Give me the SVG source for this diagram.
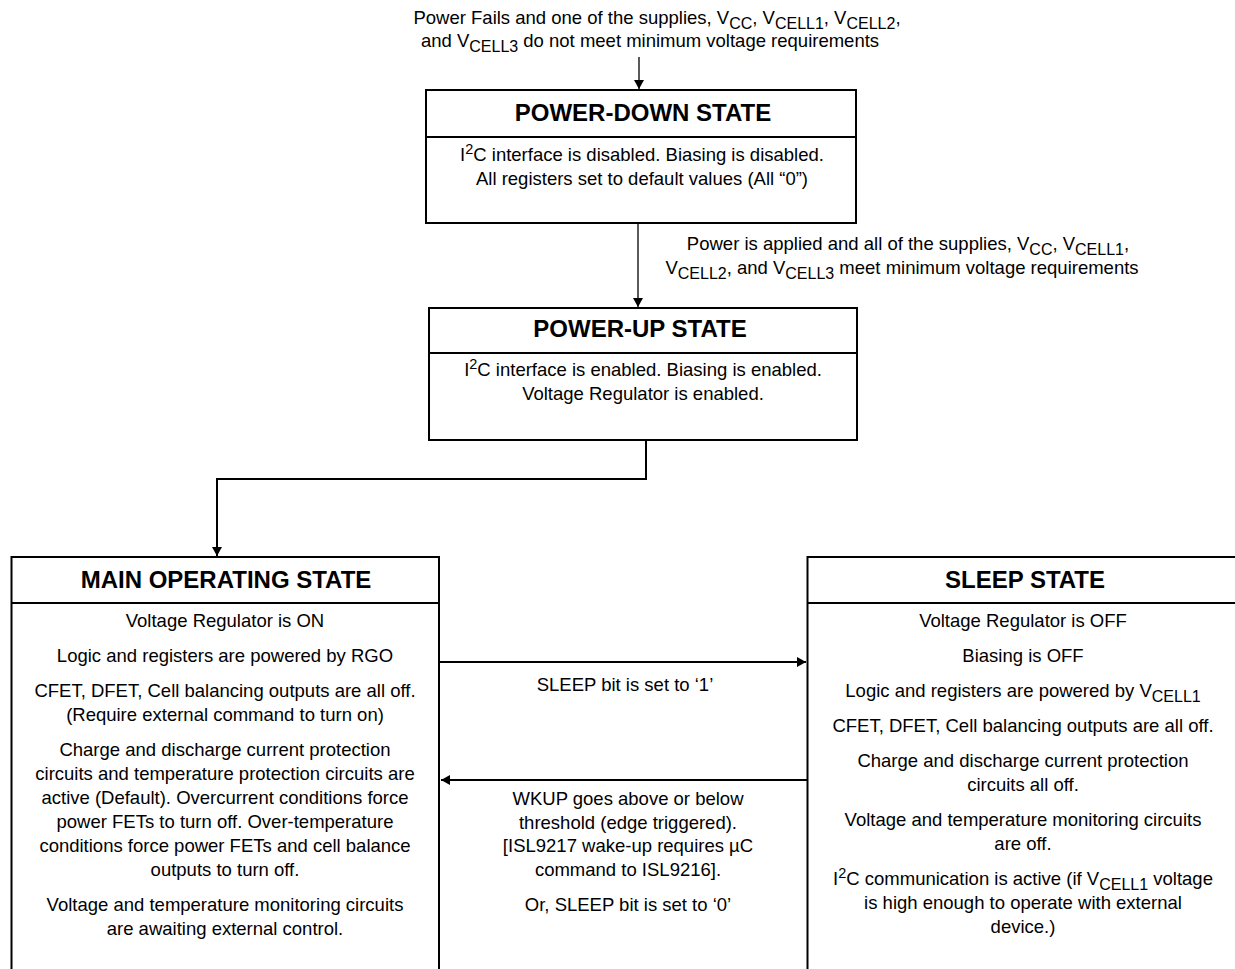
<svg xmlns="http://www.w3.org/2000/svg" width="1235" height="969" viewBox="0 0 1235 969">
<defs>
<marker id="ah" markerUnits="userSpaceOnUse" markerWidth="9" markerHeight="10" refX="9" refY="5" orient="auto">
<path d="M0,0 L9,5 L0,10 z" fill="#000"/>
</marker>
<style>
.t{font-family:"Liberation Sans",Arial,sans-serif;font-size:18.5px;fill:#000;text-anchor:middle}
.h{font-family:"Liberation Sans",Arial,sans-serif;font-size:24px;font-weight:bold;fill:#000;text-anchor:middle}
.s{font-size:16px}
.p{font-size:14.5px}
.box{fill:#fff;stroke:#000;stroke-width:2}
.div{stroke:#000;stroke-width:2}
.c{fill:none;stroke:#000;stroke-width:2}
.ct{fill:none;stroke:#000;stroke-width:1.3}
</style>
</defs>
<rect width="1235" height="969" fill="#fff"/>

<g id="connectors">
<line class="ct" x1="639" y1="57" x2="639" y2="89" marker-end="url(#ah)"/>
<line class="ct" x1="638" y1="224" x2="638" y2="307" marker-end="url(#ah)"/>
<polyline class="c" points="646,441 646,479 217,479 217,556" marker-end="url(#ah)"/>
<line class="c" x1="440" y1="662" x2="806" y2="662" marker-end="url(#ah)"/>
<line class="c" x1="807" y1="780" x2="441" y2="780" marker-end="url(#ah)"/>
<text class="t" x="657" y="24">Power Fails and one of the supplies, V<tspan class="s" dy="5">CC</tspan><tspan dy="-5">, V</tspan><tspan class="s" dy="5">CELL1</tspan><tspan dy="-5">, V</tspan><tspan class="s" dy="5">CELL2</tspan><tspan dy="-5">,</tspan></text>
<text class="t" x="650" y="47">and V<tspan class="s" dy="5">CELL3</tspan><tspan dy="-5"> do not meet minimum voltage requirements</tspan></text>
<text class="t" x="908" y="250">Power is applied and all of the supplies, V<tspan class="s" dy="5">CC</tspan><tspan dy="-5">, V</tspan><tspan class="s" dy="5">CELL1</tspan><tspan dy="-5">,</tspan></text>
<text class="t" x="902" y="274">V<tspan class="s" dy="5">CELL2</tspan><tspan dy="-5">, and V</tspan><tspan class="s" dy="5">CELL3</tspan><tspan dy="-5"> meet minimum voltage requirements</tspan></text>
<text class="t" x="625" y="691">SLEEP bit is set to ‘1’</text>
<text class="t" x="628" y="805">WKUP goes above or below</text>
<text class="t" x="628" y="829">threshold (edge triggered).</text>
<text class="t" x="628" y="852">[ISL9217 wake-up requires µC</text>
<text class="t" x="628" y="876">command to ISL9216].</text>
<text class="t" x="628" y="911">Or, SLEEP bit is set to ‘0’</text>
</g>

<g id="power-down">
<rect class="box" x="426" y="90" width="430" height="133"/>
<line class="div" x1="426" y1="137" x2="856" y2="137"/>
<text class="h" x="643" y="121">POWER-DOWN STATE</text>
<text class="t" x="642" y="161">I<tspan class="p" dy="-7">2</tspan><tspan dy="7">C interface is disabled. Biasing is disabled.</tspan></text>
<text class="t" x="642" y="185">All registers set to default values (All “0”)</text>
</g>

<g id="power-up">
<rect class="box" x="429" y="308" width="428" height="132"/>
<line class="div" x1="429" y1="353" x2="857" y2="353"/>
<text class="h" x="640" y="337">POWER-UP STATE</text>
<text class="t" x="643" y="376">I<tspan class="p" dy="-7">2</tspan><tspan dy="7">C interface is enabled. Biasing is enabled.</tspan></text>
<text class="t" x="643" y="400">Voltage Regulator is enabled.</text>
</g>

<g id="main-operating">
<rect class="box" x="11.5" y="557" width="427.5" height="430"/>
<line class="div" x1="11.5" y1="603" x2="439" y2="603"/>
<text class="h" x="226" y="588">MAIN OPERATING STATE</text>
<text class="t" x="225" y="627">Voltage Regulator is ON</text>
<text class="t" x="225" y="662">Logic and registers are powered by RGO</text>
<text class="t" x="225" y="697">CFET, DFET, Cell balancing outputs are all off.</text>
<text class="t" x="225" y="721">(Require external command to turn on)</text>
<text class="t" x="225" y="756">Charge and discharge current protection</text>
<text class="t" x="225" y="780">circuits and temperature protection circuits are</text>
<text class="t" x="225" y="804">active (Default). Overcurrent conditions force</text>
<text class="t" x="225" y="828">power FETs to turn off. Over-temperature</text>
<text class="t" x="225" y="852">conditions force power FETs and cell balance</text>
<text class="t" x="225" y="876">outputs to turn off.</text>
<text class="t" x="225" y="911">Voltage and temperature monitoring circuits</text>
<text class="t" x="225" y="935">are awaiting external control.</text>
</g>

<g id="sleep">
<rect class="box" x="807.5" y="557" width="440" height="430"/>
<line class="div" x1="807.5" y1="603" x2="1240" y2="603"/>
<text class="h" x="1025" y="588">SLEEP STATE</text>
<text class="t" x="1023" y="627">Voltage Regulator is OFF</text>
<text class="t" x="1023" y="662">Biasing is OFF</text>
<text class="t" x="1023" y="697">Logic and registers are powered by V<tspan class="s" dy="5">CELL1</tspan></text>
<text class="t" x="1023" y="732">CFET, DFET, Cell balancing outputs are all off.</text>
<text class="t" x="1023" y="767">Charge and discharge current protection</text>
<text class="t" x="1023" y="791">circuits all off.</text>
<text class="t" x="1023" y="826">Voltage and temperature monitoring circuits</text>
<text class="t" x="1023" y="850">are off.</text>
<text class="t" x="1023" y="885">I<tspan class="p" dy="-7">2</tspan><tspan dy="7">C communication is active (if V</tspan><tspan class="s" dy="5">CELL1</tspan><tspan dy="-5"> voltage</tspan></text>
<text class="t" x="1023" y="909">is high enough to operate with external</text>
<text class="t" x="1023" y="933">device.)</text>
</g>
</svg>
